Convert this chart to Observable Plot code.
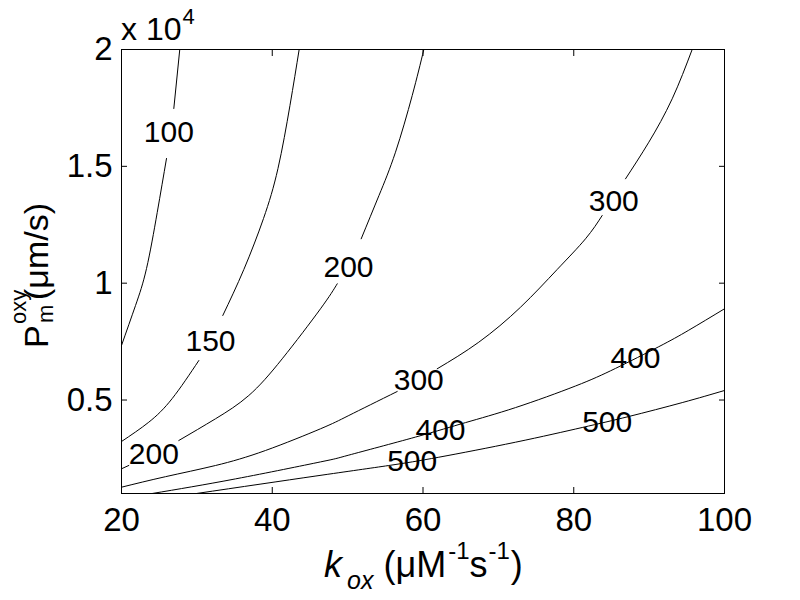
<!DOCTYPE html>
<html>
<head>
<meta charset="utf-8">
<script src="https://cdn.jsdelivr.net/npm/d3@7"></script>
<script src="https://cdn.jsdelivr.net/npm/@observablehq/plot@0.6"></script>
<style>
  body { margin: 0; background: #fff; }
  svg { font-family: "Liberation Sans", Arial, Helvetica, sans-serif; }
</style>
</head>
<body>
<div id="chart"></div>
<script>
// ---- tick values & labels ----
const xTicks = [20, 40, 60, 80, 100];
const yTicks = [5000, 10000, 15000, 20000];
const yTickLabels = ["0.5", "1", "1.5", "2"];

// ---- contour levels and points: [k_ox, P_m^oxy]; null = gap for a label ----
const levels = [100, 150, 200, 300, 400, 500];
const c100 = [[27.73, 20000], [26.94, 17475], null, [25.97, 15336], [24.74, 13025], [23.32, 10628], [21.86, 9045], [20, 7333]];
const c150 = [[43.57, 20000], [42.35, 17604], [40.76, 14908], [38.84, 12768], [36.23, 10586], [33.44, 8617], null,
              [30.26, 6691], [26.73, 5065], [23.62, 4052], [20, 3225]];
const c200 = [[60.11, 20000], [58.57, 18032], [56.35, 15605], [54.16, 13752], [51.80, 11899], null,
              [48.62, 9974], [46.40, 8904], [41.32, 6764], [36.89, 5194], [32.47, 4197], [27.60, 3268], null,
              [20.97, 2200], [20, 2057]];
const c300 = [[95.71, 20000], [93.06, 17890], [89.96, 16033], [86.87, 14467], null,
              [83.77, 12896], [81.56, 11899], [77.80, 10586], [72.94, 8972], [67.40, 7475], [61.88, 6336], null,
              [56.58, 5365], [50.16, 4338], [46.40, 3769], [39.10, 2840], [32.47, 2198], [25.84, 1720], [20, 1270]];
const c400 = [[100, 8904], [95.26, 7988], [91.28, 7282], [85.54, 6353], [80.23, 5600], [72.27, 4676], [65.64, 4034],
              [59.00, 3414], [50.16, 2643], [46.40, 2352], [35.12, 1625], [24.07, 1000]];
const c500 = [[100, 5408], [94.39, 4890], [87.30, 4295], [81.12, 3824], [72.27, 3195], [62.10, 2553], [55.46, 2198],
              [45.80, 1749], [29.95, 1000]];

// ---- contour labels ----
const labelLevel = [100, 150, 200, 200, 300, 300, 400, 400, 500, 500];
const labelK     = [26.28, 31.81, 50.12, 24.29, 85.31, 59.44, 88.19, 62.32, 84.44, 58.57];
const labelP     = [16435, 7505, 10684, 2656, 13496, 5836, 6790, 3696, 4051, 2370];

// ---- build tables ----
const series = [c100, c150, c200, c300, c400, c500];
const rows = series.flatMap((pts, i) =>
  pts.map(p => p ? {level: levels[i], k: p[0], P: p[1]} : {level: levels[i], k: NaN, P: NaN}));
const labels = labelLevel.map((lv, i) => ({level: lv, k: labelK[i], P: labelP[i]}));

const font = "'Liberation Sans', Arial, Helvetica, sans-serif";

const plot = Plot.plot({
  width: 800,
  height: 600,
  marginLeft: 121,
  marginRight: 76,
  marginTop: 49,
  marginBottom: 107,
  style: {fontFamily: font, background: "white", color: "black"},
  x: {domain: [20, 100]},
  y: {domain: [1000, 20000]},
  marks: [
    Plot.line(rows, {x: "k", y: "P", z: "level", stroke: "black", strokeWidth: 1, curve: "natural", clip: true}),
    Plot.text(labels, {x: "k", y: "P", text: d => String(d.level), fontSize: 30, fill: "black"}),
    Plot.axisX(xTicks, {anchor: "bottom", tickSize: 0, tickPadding: 14, fontSize: 33, label: null}),
    Plot.axisY(yTicks, {anchor: "left", tickSize: 0, tickPadding: 9, fontSize: 33, label: null,
                        tickFormat: d => yTickLabels[yTicks.indexOf(d)]}),
    Plot.axisX(xTicks, {anchor: "bottom", tickSize: -6, fill: "none", label: null}),
    Plot.axisX(xTicks, {anchor: "top", tickSize: -6, fill: "none", label: null}),
    Plot.axisY(yTicks, {anchor: "left", tickSize: -6, fill: "none", label: null}),
    Plot.axisY(yTicks, {anchor: "right", tickSize: -6, fill: "none", label: null}),
    Plot.frame({stroke: "black"})
  ]
});

document.getElementById("chart").appendChild(plot);

// ---- axis titles and exponent (text with sub/superscripts) ----
const svg = d3.select(plot);
const xs = plot.scale("x"), ys = plot.scale("y");
const frameLeft = xs.apply(20), frameRight = xs.apply(100);
const frameTop = ys.apply(20000), frameBottom = ys.apply(1000);

// x label: k_ox (μM^-1 s^-1)
const xl = svg.append("text")
  .attr("x", frameLeft + 203)
  .attr("y", frameBottom + 84)
  .attr("text-anchor", "start")
  .attr("fill", "black")
  .style("font-family", font)
  .style("font-size", "36px");
xl.append("tspan").style("font-style", "italic").text("k");
xl.append("tspan").style("font-style", "italic").style("font-size", "25px").attr("dx", 5).attr("dy", 12).text("ox");
xl.append("tspan").attr("dy", -12).text("\u00a0(\u03bcM");
xl.append("tspan").style("font-size", "24px").attr("dx", 2).attr("dy", -18).text("-1");
xl.append("tspan").attr("dy", 18).text("s");
xl.append("tspan").style("font-size", "24px").attr("dx", 1).attr("dy", -18).text("-1");
xl.append("tspan").attr("dx", 1).attr("dy", 18).text(")");

// y label: P^oxy_m (μm/s), rotated
const yg = svg.append("g")
  .attr("transform", `translate(48,${(frameTop + frameBottom) / 2 + 76}) rotate(-90)`);
const yl = yg.append("text")
  .attr("text-anchor", "start")
  .attr("fill", "black")
  .style("font-family", font)
  .style("font-size", "34px");
yl.append("tspan").attr("x", -1).text("P");
yl.append("tspan").attr("x", 23).attr("dy", -22).style("font-size", "22px").text("oxy");
yl.append("tspan").attr("x", 24).attr("dy", 27).style("font-size", "22px").text("m");
yl.append("tspan").attr("x", 47).attr("dy", -5).text("(\u03bcm/s)");

// exponent: x 10^4
const ex = svg.append("text")
  .attr("x", frameLeft)
  .attr("y", frameTop - 9)
  .attr("text-anchor", "start")
  .attr("fill", "black")
  .style("font-family", font)
  .style("font-size", "32px");
ex.append("tspan").text("x 10");
ex.append("tspan").style("font-size", "22px").attr("dx", 1).attr("dy", -16).text("4");
</script>
</body>
</html>
